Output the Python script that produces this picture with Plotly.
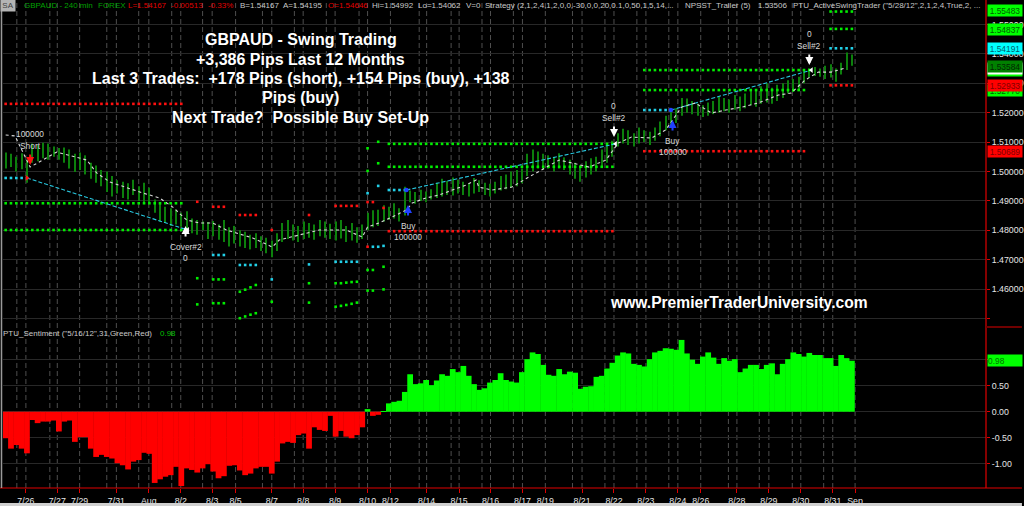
import plotly.graph_objects as go
import numpy as np

# ---------------- data ----------------
bar_low = [1.5010, 1.5015, 1.5000, 1.5008, 1.4962, 1.5030, 1.5035, 1.5045, 1.5040, 1.5050,
           1.5040, 1.5030, 1.5010, 1.4998, 1.5005, 1.4990, 1.4975, 1.4962, 1.4950, 1.4930,
           1.4915, 1.4925, 1.4910, 1.4905, 1.4920, 1.4900, 1.4895, 1.4890, 1.4860, 1.4830,
           1.4825, 1.4815, 1.4820, 1.4812, 1.4795, 1.4790, 1.4785, 1.4800, 1.4770, 1.4780,
           1.4768, 1.4760, 1.4745, 1.4755, 1.4745, 1.4740, 1.4735, 1.4740, 1.4730, 1.4722,
           1.4708, 1.4730, 1.4760, 1.4770, 1.4765, 1.4760, 1.4770, 1.4775, 1.4768, 1.4780,
           1.4775, 1.4770, 1.4765, 1.4772, 1.4760, 1.4765, 1.4758, 1.4770, 1.4800, 1.4810,
           1.4815, 1.4830, 1.4835, 1.4840, 1.4830, 1.4850, 1.4895, 1.4890, 1.4900, 1.4895,
           1.4905, 1.4910, 1.4915, 1.4920, 1.4918, 1.4925, 1.4920, 1.4915, 1.4925, 1.4930,
           1.4920, 1.4915, 1.4925, 1.4935, 1.4940, 1.4945, 1.4950, 1.4960, 1.4985, 1.5000,
           1.5010, 1.5005, 1.5010, 1.5000, 1.5010, 1.5005, 1.4990, 1.4975, 1.4965, 1.4980,
           1.4990, 1.5000, 1.5015, 1.5030, 1.5050, 1.5085, 1.5095, 1.5090, 1.5085, 1.5095,
           1.5100, 1.5090, 1.5105, 1.5120, 1.5140, 1.5150, 1.5165, 1.5190, 1.5200, 1.5195,
           1.5190, 1.5185, 1.5190, 1.5195, 1.5200, 1.5205, 1.5200, 1.5210, 1.5205, 1.5215,
           1.5225, 1.5220, 1.5230, 1.5235, 1.5230, 1.5240, 1.5250, 1.5265, 1.5270, 1.5275,
           1.5300, 1.5320, 1.5325, 1.5322, 1.5315, 1.5320, 1.5305, 1.5330, 1.5345, 1.5360]
bar_high = [1.5065, 1.5060, 1.5050, 1.5062, 1.5040, 1.5095, 1.5090, 1.5098, 1.5095, 1.5085,
            1.5080, 1.5082, 1.5075, 1.5060, 1.5065, 1.5055, 1.5030, 1.5020, 1.5005, 1.5000,
            1.4985, 1.4970, 1.4965, 1.4960, 1.4972, 1.4950, 1.4962, 1.4945, 1.4905, 1.4895,
            1.4880, 1.4875, 1.4870, 1.4860, 1.4865, 1.4840, 1.4835, 1.4830, 1.4828, 1.4832,
            1.4820, 1.4835, 1.4810, 1.4815, 1.4800, 1.4795, 1.4785, 1.4790, 1.4780, 1.4775,
            1.4765, 1.4790, 1.4825, 1.4835, 1.4820, 1.4815, 1.4830, 1.4825, 1.4820, 1.4835,
            1.4830, 1.4822, 1.4830, 1.4835, 1.4815, 1.4825, 1.4810, 1.4820, 1.4860, 1.4868,
            1.4870, 1.4885, 1.4880, 1.4892, 1.4875, 1.4948, 1.4935, 1.4930, 1.4938, 1.4932,
            1.4940, 1.4962, 1.4975, 1.4968, 1.4980, 1.4972, 1.4965, 1.4960, 1.4978, 1.4970,
            1.4962, 1.4958, 1.4965, 1.4985, 1.4990, 1.5000, 1.5005, 1.5010, 1.5060, 1.5075,
            1.5068, 1.5060, 1.5055, 1.5050, 1.5062, 1.5048, 1.5040, 1.5030, 1.5020, 1.5035,
            1.5045, 1.5050, 1.5075, 1.5090, 1.5105, 1.5130, 1.5145, 1.5140, 1.5130, 1.5150,
            1.5140, 1.5135, 1.5150, 1.5170, 1.5190, 1.5205, 1.5215, 1.5250, 1.5248, 1.5240,
            1.5230, 1.5225, 1.5235, 1.5240, 1.5255, 1.5250, 1.5245, 1.5260, 1.5255, 1.5265,
            1.5280, 1.5275, 1.5290, 1.5300, 1.5285, 1.5295, 1.5300, 1.5310, 1.5315, 1.5322,
            1.5345, 1.5350, 1.5355, 1.5350, 1.5360, 1.5365, 1.5350, 1.5370, 1.5405, 1.5398]

sentiment = [-0.51, -0.71, -0.64, -0.71, -0.80, -0.16, -0.22, -0.19, -0.19, -0.17,
             -0.38, -0.19, -0.17, -0.58, -0.49, -0.49, -0.71, -0.87, -0.83, -0.87,
             -0.90, -0.99, -1.03, -1.11, -0.96, -0.93, -0.79, -0.81, -1.37, -1.30,
             -1.25, -1.22, -1.06, -1.43, -1.09, -1.12, -1.17, -1.09, -1.01, -1.15,
             -1.28, -1.24, -1.04, -1.03, -1.13, -1.22, -1.19, -1.09, -1.06, -1.06,
             -1.19, -0.96, -0.61, -0.58, -0.60, -0.45, -0.42, -0.71, -0.30, -0.35,
             -0.37, -0.08, -0.48, -0.37, -0.48, -0.51, -0.45, -0.30, 0.05, -0.08,
             -0.06, 0.01, 0.16, 0.19,
             0.21, 0.38, 0.72, 0.53, 0.545, 0.61, 0.51, 0.60, 0.72, 0.69,
             0.82, 0.76, 0.88, 0.69, 0.53, 0.42, 0.45, 0.56, 0.61, 0.74,
             0.61, 0.58, 0.56, 0.76, 1.01, 1.14, 1.11, 0.90, 0.71, 0.69,
             0.82, 0.72, 0.77, 0.75, 0.44, 0.48, 0.49, 0.67, 0.69, 0.83,
             0.94, 1.08, 1.14, 1.12, 0.92, 0.90, 0.87, 1.01, 1.14, 1.17,
             1.22, 1.21, 1.19, 1.38, 1.12, 1.00, 0.92, 1.06, 1.14, 1.04,
             0.92, 1.03, 0.98, 1.01, 0.76, 0.83, 0.90, 0.90, 0.82, 0.90,
             0.93, 0.72, 0.92, 1.01, 1.14, 1.11, 1.06, 1.13, 1.09, 1.09,
             1.03, 1.03, 0.88, 1.09, 1.03, 0.98]

# white dashed trailer line (bar index, price)
trailer_x = [0, 1.75, 4.6, 9.6, 15.25, 17.1, 19.6, 22.75, 25.75, 28.9, 31.4, 34, 36.4, 38.9,
             41.5, 46.4, 50.1, 51.4, 55.2, 58.9, 64, 67, 68, 70.2, 72.6, 75.3, 76.4, 79,
             81.4, 83.9, 86.5, 88.4, 88.9, 91.4, 95.1, 98.3, 101.5, 104, 106.4, 109.6,
             112.8, 115.1, 117.6, 121.4, 124, 127, 129.6, 132.6, 135.3, 138.3, 141.4,
             145.2, 147.6, 150.2, 152.7, 155.1, 157.8]
trailer_p = [1.5124, 1.5121, 1.5015, 1.5066, 1.5039, 1.4995, 1.4964, 1.4944, 1.4927, 1.4910,
             1.4879, 1.4835, 1.4825, 1.4825, 1.4801, 1.4774, 1.4743, 1.4767, 1.4784, 1.4801,
             1.4801, 1.4777, 1.4811, 1.4825, 1.4845, 1.4869, 1.4893, 1.4910, 1.4920, 1.4937,
             1.4954, 1.4971, 1.4947, 1.4937, 1.4947, 1.4981, 1.5015, 1.5039, 1.5029, 1.5015,
             1.5039, 1.5097, 1.5117, 1.5114, 1.5141, 1.5219, 1.5233, 1.5199, 1.5209, 1.5219,
             1.5233, 1.5260, 1.5267, 1.5311, 1.5338, 1.5338, 1.5352]

# dotted level lines: (first bar, last bar, price)
green_levels = [(0, 33, 1.4892), (0, 33, 1.4801), (72, 114, 1.5094), (72, 114, 1.5016),
                (120, 151, 1.5345), (120, 150, 1.5277), (155, 159, 1.5544), (155, 159, 1.5485)]
red_levels = [(0, 33, 1.5230), (72, 114, 1.4797), (120, 150, 1.5069), (155, 159, 1.5293)]
cyan_levels = [(0, 4, 1.4978), (72, 75, 1.4937), (120, 125, 1.5209), (155, 159, 1.5419)]

# isolated indicator dots
red_pts = [(36, 1.4897), (39, 1.4880), (40, 1.4880), (41, 1.4880), (44, 1.4852), (45, 1.4852),
           (46, 1.4852), (47, 1.4852), (50, 1.4801), (57, 1.4852), (62, 1.4883), (63, 1.4883),
           (64, 1.4883), (65, 1.4883), (66, 1.4883), (68, 1.4896), (69, 1.4896), (71, 1.4876),
           (68, 1.4744)]
cyan_pts = [(39, 1.4716), (40, 1.4716), (41, 1.4716), (44, 1.4682), (45, 1.4682), (46, 1.4682),
            (47, 1.4682), (50, 1.4633), (57, 1.4684), (62, 1.4693), (63, 1.4693), (64, 1.4693),
            (65, 1.4693), (66, 1.4693), (69, 1.4744), (70, 1.4744), (71, 1.4747), (68, 1.4926),
            (70, 1.4951)]
green_pts = [(36, 1.4637), (36, 1.4548), (39, 1.4633), (40, 1.4633), (41, 1.4633),
             (39, 1.4552), (40, 1.4552), (41, 1.4552), (44, 1.4591), (45, 1.4598), (46, 1.4606),
             (47, 1.4614), (44, 1.4501), (45, 1.4507), (46, 1.4513), (47, 1.4518), (50, 1.4557),
             (57, 1.4620), (57, 1.4554), (62, 1.4620), (63, 1.4620), (64, 1.4622), (65, 1.4624),
             (66, 1.4625), (62, 1.4540), (63, 1.4543), (64, 1.4546), (65, 1.4550), (66, 1.4554),
             (68, 1.4665), (69, 1.4665), (71, 1.4676), (68, 1.4595), (69, 1.4595), (71, 1.4599),
             (68, 1.5079), (68, 1.5002), (70, 1.5101), (70, 1.5028)]

# trade connection lines (entry bar, entry price, exit bar, exit price)
trade_lines = [(4.0, 1.4978, 34.2, 1.4801), (75.3, 1.4937, 114.6, 1.5094), (125.0, 1.5209, 151.4, 1.5345)]

# trade signals: bar, arrow-tip price, direction, label lines
signals = [
    (4.6, 1.5022, 'down', '#ff1010', ['100000', 'Short']),
    (33.8, 1.4815, 'up', '#ffffff', ['Cover#2', '0']),
    (75.6, 1.4886, 'up', '#2040ff', ['Buy', '100000']),
    (114.3, 1.5117, 'down', '#ffffff', ['0', 'Sell#2']),
    (125.3, 1.5175, 'up', '#2040ff', ['Buy', '100000']),
    (151.0, 1.5362, 'down', '#ffffff', ['0', 'Sell#2']),
]

tick_pos = [3.8, 9.7, 13.9, 20.8, 26.9, 32.9, 38.8, 43.2, 50.0, 55.9, 61.9, 68.0, 72.3, 79.1,
            85.2, 91.1, 97.1, 101.4, 108.3, 114.3, 120.3, 126.3, 130.6, 137.4, 143.4, 149.4,
            155.4, 159.6]
tick_text = ['7/26', '7/27', '7/29', '7/31', 'Aug', '8/2', '8/3', '8/5', '8/7', '8/8', '8/9',
             '8/10', '8/12', '8/14', '8/15', '8/16', '8/17', '8/19', '8/21', '8/22', '8/23',
             '8/24', '8/26', '8/28', '8/29', '8/30', '8/31', 'Sep']
session_pos = [2.1, 8.3, 19.0, 25.0, 31.2, 37.0, 48.25, 54.25, 60.25, 66.4, 77.7, 83.7, 89.5,
               95.4, 106.5, 112.6, 118.6, 124.6, 135.8, 141.6, 147.8, 153.7]

price_ticks = [1.45, 1.46, 1.47, 1.48, 1.49, 1.50, 1.51, 1.52, 1.53, 1.54, 1.55]
price_tick_text = ['', '1.46000', '1.47000', '1.48000', '1.49000', '1.50000', '1.51000',
                   '1.52000', '1.53000', '1.54000', '1.55000']
sent_ticks = [-1.0, -0.5, 0.0, 0.5, 1.0]
sent_tick_text = ['-1.00', '-0.50', '0.00', '0.50', '']

# right-hand value flags: (price, background, text colour)
price_flags = [(1.5277, '#00ff00', '#006000'), (1.5345, '#00ff00', '#006000'),
               (1.53506, '#ffffff', '#404040'), (1.53584, '#008000', '#002800'),
               (1.52933, '#ff0000', '#800000'), (1.54191, '#00ffff', '#006070'),
               (1.54837, '#00ff00', '#006000'), (1.55483, '#00ff00', '#006000'),
               (1.50689, '#ff0000', '#800000')]
sent_flag = 0.98

header_parts = [("GBPAUD - 240 min", 23, '#00a000'), ("FOREX", 97, '#00a000'),
                ("L=1.54167", 127, '#e00000'), ("-0.00513", 170, '#e00000'),
                ("-0.33%", 207, '#e00000'), ("B=1.54167", 239, '#c8c8c8'),
                ("A=1.54195", 283, '#c8c8c8'), ("O=1.54646", 328, '#e00000'),
                ("Hi=1.54992", 372, '#c8c8c8'), ("Lo=1.54062", 418, '#c8c8c8'),
                ("V=0", 466, '#c8c8c8'),
                ("Strategy (2,1,2,4,1,2,0,0,-30,0,0,20,0.1,0,50,1,5,14,...", 485, '#c8c8c8'),
                ("NPSST_Trailer (5)", 685, '#c8c8c8'), ("1.53506", 759, '#c8c8c8'),
                ('PTU_ActiveSwingTrader ("5/28/12",2,1,2,4,True,2, ...', 794, '#c8c8c8')]

title_lines = ["GBPAUD - Swing Trading", "+3,386 Pips Last 12 Months",
               "Last 3 Trades:\u00a0 +178 Pips (short), +154 Pips (buy), +138",
               "Pips (buy)", "Next Trade?\u00a0 Possible Buy Set-Up"]

# ---------------- geometry helpers ----------------
W, H = 1024, 506
ML, MR, MT, MB = 3, 36, 0, 18
PW, PH = W - ML - MR, H - MT - MB


def px_x(px):
    return (px - ML) / PW


def px_y(py):
    return (H - MB - py) / PH


SMALL = "Liberation Sans, Arial, sans-serif"
BOLD = "Liberation Sans, Arial, sans-serif"
FS = 8.4
FSH = 8.0

idx = np.arange(len(bar_low))
lo = np.array(bar_low)
hi = np.array(bar_high)
sent = np.array(sentiment)

fig = go.Figure()

# price bars
fig.add_trace(go.Bar(x=idx, y=hi - lo, base=lo, width=0.2, marker=dict(color='#0c800c', line_width=0),
                     xaxis='x', yaxis='y'))


def level_points(levels):
    xs, ys = [], []
    for a, b, p in levels:
        for k in range(a, b + 1):
            xs.append(k)
            ys.append(p)
    return xs, ys


for levels, pts, col in [(green_levels, green_pts, '#00ee00'), (red_levels, red_pts, '#ff1010'),
                         (cyan_levels, cyan_pts, '#22d0e8')]:
    xs, ys = level_points(levels)
    xs += [q[0] for q in pts]
    ys += [q[1] for q in pts]
    fig.add_trace(go.Scatter(x=xs, y=ys, mode='markers',
                             marker=dict(symbol='square', size=2.6, color=col, line_width=0),
                             xaxis='x', yaxis='y'))

# trade lines
for x0, p0, x1, p1 in trade_lines:
    fig.add_trace(go.Scatter(x=[x0, x1], y=[p0, p1], mode='lines',
                             line=dict(color='#28c8e0', width=1.1, dash='4px,2px'),
                             xaxis='x', yaxis='y'))

# trailer
fig.add_trace(go.Scatter(x=trailer_x, y=trailer_p, mode='lines',
                         line=dict(color='#d8d8d8', width=1.1, dash='3px,3px'),
                         xaxis='x', yaxis='y'))

# entry / exit markers
fig.add_trace(go.Scatter(x=[trade_lines[0][0]], y=[trade_lines[0][1]], mode='markers',
                         marker=dict(symbol='triangle-right', size=5, color='#ff1010'),
                         xaxis='x', yaxis='y'))
fig.add_trace(go.Scatter(x=[t[2] for t in trade_lines], y=[t[3] for t in trade_lines], mode='markers',
                         marker=dict(symbol='triangle-left', size=5, color='#ffffff'),
                         xaxis='x', yaxis='y'))
fig.add_trace(go.Scatter(x=[t[0] for t in trade_lines[1:]], y=[t[1] for t in trade_lines[1:]],
                         mode='markers', marker=dict(symbol='circle', size=4.5, color='#2040ff'),
                         xaxis='x', yaxis='y'))

# sentiment histogram
fig.add_trace(go.Bar(x=idx, y=sent, width=1.08,
                     marker=dict(color=['#00ff00' if v > 0 else '#ff0000' for v in sent], line_width=0),
                     xaxis='x', yaxis='y2'))

ann = []
# header
ann.append(dict(text='SA', x=px_x(0), y=px_y(6), xref='paper', yref='paper', xanchor='left',
                yanchor='middle', showarrow=False, bgcolor='#b4b4b4', width=14, height=11,
                borderpad=0, font=dict(family=SMALL, size=FSH, color='#404040')))
for t, xp, col in header_parts:
    ann.append(dict(text=t, x=px_x(xp), y=px_y(6), xref='paper', yref='paper', xanchor='left',
                    yanchor='middle', showarrow=False, borderpad=0,
                    font=dict(family=SMALL, size=FSH, color=col)))
# title
for k, t in enumerate(title_lines):
    ann.append(dict(text='<b>' + t + '</b>', x=px_x(301.5), y=px_y(40 + 19.3 * k), xref='paper',
                    yref='paper', xanchor='center', yanchor='middle', showarrow=False,
                    font=dict(family=BOLD, size=16, color='#ffffff')))
ann.append(dict(text='<b>www.PremierTraderUniversity.com</b>', x=px_x(740), y=px_y(302),
                xref='paper', yref='paper', xanchor='center', yanchor='middle', showarrow=False,
                font=dict(family=BOLD, size=15.6, color='#ffffff')))
# sentiment header
ann.append(dict(text='PTU_Sentiment ("5/16/12",31,Green,Red)', x=px_x(2), y=px_y(333), xref='paper',
                yref='paper', xanchor='left', yanchor='middle', showarrow=False, borderpad=0,
                font=dict(family=SMALL, size=FSH, color='#c8c8c8')))
ann.append(dict(text='%.2f' % sent_flag, x=px_x(159), y=px_y(333), xref='paper',
                yref='paper', xanchor='left', yanchor='middle', showarrow=False, borderpad=0,
                font=dict(family=SMALL, size=FSH, color='#00c000')))

# signals
for i, p, d, col, lines in signals:
    ann.append(dict(x=i, y=p, xref='x', yref='y', text='', showarrow=True, ax=0,
                    ay=-12 if d == 'down' else 12, arrowhead=2, arrowsize=0.8, arrowwidth=2.0,
                    arrowcolor=col))
    shifts = [31, 19] if d == 'down' else [-21, -32]
    for t, s in zip(lines, shifts):
        ann.append(dict(x=i, y=p, xref='x', yref='y', text=t, showarrow=False, yshift=s,
                        xanchor='center', yanchor='middle',
                        font=dict(family=SMALL, size=FS, color='#d8d8d8')))

# value flags
for p, bg, fg in price_flags:
    ann.append(dict(x=1, xref='paper', xanchor='left', xshift=1, y=p, yref='y', yanchor='middle',
                    text='%.5f' % p, showarrow=False, bgcolor=bg, width=34, height=11, borderpad=0,
                    font=dict(family=SMALL, size=FS, color=fg)))
ann.append(dict(x=1, xref='paper', xanchor='left', xshift=1, y=sent_flag, yref='y2', yanchor='middle',
                text='%.2f' % sent_flag, showarrow=False, bgcolor='#00ff00', width=34, height=11,
                borderpad=0, align='left', font=dict(family=SMALL, size=FS, color='#007000')))

shapes = []
for xv in list(tick_pos) + list(session_pos):
    shapes.append(dict(type='line', xref='x', yref='paper', x0=xv, x1=xv, y0=0, y1=1,
                       line=dict(color='#4e4e4e', width=1, dash='5px,3px'), layer='below'))
# frame lines
shapes.append(dict(type='line', xref='paper', yref='paper', x0=1, x1=1, y0=0, y1=1,
                   line=dict(color='#e00000', width=1.2)))
shapes.append(dict(type='line', xref='paper', yref='paper', x0=px_x(0), x1=px_x(W), y0=0, y1=0,
                   line=dict(color='#e00000', width=1.2)))
shapes.append(dict(type='line', xref='paper', yref='paper', x0=px_x(1.5), x1=px_x(1.5), y0=0, y1=1,
                   line=dict(color='#9a9a9a', width=1.5)))
shapes.append(dict(type='line', xref='paper', yref='paper', x0=1, x1=px_x(W), y0=px_y(327),
                   y1=px_y(327), line=dict(color='#700000', width=2)))
shapes.append(dict(type='rect', xref='paper', yref='paper', x0=px_x(0), x1=px_x(W), y0=px_y(503),
                   y1=px_y(H), line_width=0, fillcolor='#d0d0d0'))

axis_font = dict(family=SMALL, size=FS + 0.4, color='#e6e6e6')
fig.update_layout(
    width=W, height=H, margin=dict(l=ML, r=MR, t=MT, b=MB, pad=0),
    paper_bgcolor='#000000', plot_bgcolor='#000000', showlegend=False, barmode='overlay',
    xaxis=dict(domain=[0, 1], anchor='y2', range=[-0.5, 184.2], tickmode='array', tickvals=tick_pos,
               ticktext=tick_text, ticks='outside', ticklen=4, tickcolor='#e00000', showgrid=False,
               zeroline=False, showline=False, tickfont=axis_font, fixedrange=True),
    yaxis=dict(domain=[px_y(327), 1], range=[1.44711, 1.55833], side='right', anchor='x',
               tickmode='array', tickvals=price_ticks, ticktext=price_tick_text, ticks='outside',
               ticklen=3, tickcolor='#e00000', gridcolor='#282828', gridwidth=1, zeroline=False,
               showline=False, tickfont=axis_font),
    yaxis2=dict(domain=[0, px_y(329)], range=[-1.467, 1.59], side='right', anchor='x',
                tickmode='array', tickvals=sent_ticks, ticktext=sent_tick_text, ticks='outside',
                ticklen=3, tickcolor='#e00000', gridcolor='#282828', gridwidth=1, zeroline=False,
                showline=False, tickfont=axis_font),
    annotations=ann, shapes=shapes,
)

fig.write_html("out.html", config={'displayModeBar': False},
               post_script="document.body.style.margin='0';document.body.style.background='#000';")
